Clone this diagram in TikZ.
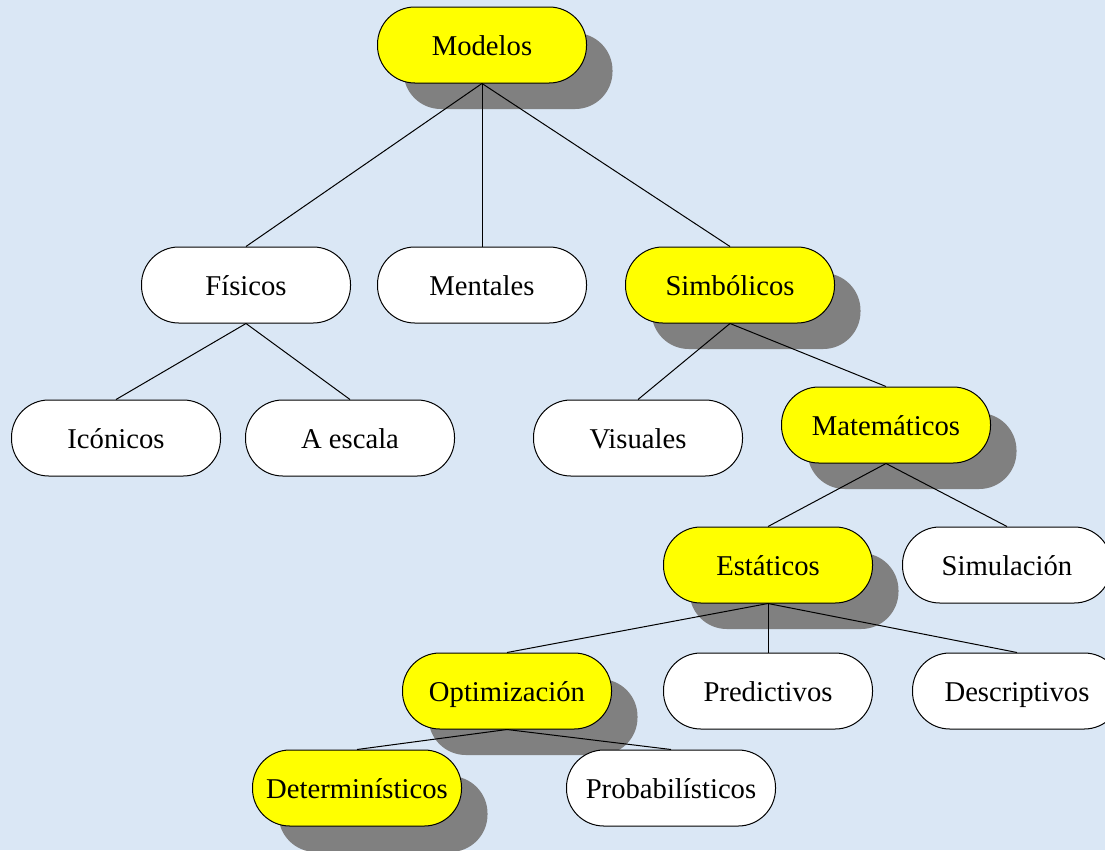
\documentclass[tikz,border=0pt]{standalone}
\usepackage{fontspec}
\setmainfont{Liberation Serif}
\usepackage{tikz}
\usetikzlibrary{shadows}
\definecolor{fondo}{HTML}{DAE7F5}
\definecolor{amarillo}{HTML}{FFFF00}
\definecolor{sombra}{HTML}{808080}

\begin{document}
\begin{tikzpicture}[x=0.75pt, y=-0.75pt,
  every node/.style={font=\fontsize{21.5}{26}\selectfont},
  modelo/.style={draw=black, line width=0.75pt, fill=white, rounded corners=28pt,
    minimum width=156.75pt, minimum height=57pt, inner sep=0pt,
    text height=15pt, text depth=0pt},
  destacado/.style={modelo, fill=amarillo,
    drop shadow={shadow xshift=19.5pt, shadow yshift=-19.5pt, fill=sombra, opacity=1}},
  rama/.style={line width=0.75pt}]

  % fondo
  \fill[fondo] (0,0) rectangle (1105,850);
  \useasboundingbox (0,0) rectangle (1105,850);
  \clip (0,0) rectangle (1105,850);

  \node[destacado] (modelos) at (482,45) {Modelos};

  \node[modelo] (fisicos) at (246,285) {Físicos};
  \node[modelo] (mentales) at (482,285) {Mentales};
  \node[destacado] (simbolicos) at (730,285) {Simbólicos};

  \node[modelo] (iconicos) at (116,438) {Icónicos};
  \node[modelo] (escala) at (350,438) {A escala};
  \node[modelo] (visuales) at (638,438) {Visuales};
  \node[destacado] (matematicos) at (886,425) {Matemáticos};

  \node[destacado] (estaticos) at (768,565) {Estáticos};
  \node[modelo] (simulacion) at (1007,565) {Simulación};

  \node[destacado] (optimizacion) at (507,691) {Optimización};
  \node[modelo] (predictivos) at (768,691) {Predictivos};
  \node[modelo] (descriptivos) at (1017,691) {Descriptivos};

  \node[destacado] (deterministicos) at (357,788) {Determinísticos};
  \node[modelo] (probabilisticos) at (671,788) {Probabilísticos};

  % ramas
  \draw[rama] (modelos.south) -- (fisicos.north);
  \draw[rama] (modelos.south) -- (mentales.north);
  \draw[rama] (modelos.south) -- (simbolicos.north);
  \draw[rama] (fisicos.south) -- (iconicos.north);
  \draw[rama] (fisicos.south) -- (escala.north);
  \draw[rama] (simbolicos.south) -- (visuales.north);
  \draw[rama] (simbolicos.south) -- (matematicos.north);
  \draw[rama] (matematicos.south) -- (estaticos.north);
  \draw[rama] (matematicos.south) -- (simulacion.north);
  \draw[rama] (estaticos.south) -- (optimizacion.north);
  \draw[rama] (estaticos.south) -- (predictivos.north);
  \draw[rama] (estaticos.south) -- (descriptivos.north);
  \draw[rama] (optimizacion.south) -- (deterministicos.north);
  \draw[rama] (optimizacion.south) -- (probabilisticos.north);
\end{tikzpicture}
\end{document}
